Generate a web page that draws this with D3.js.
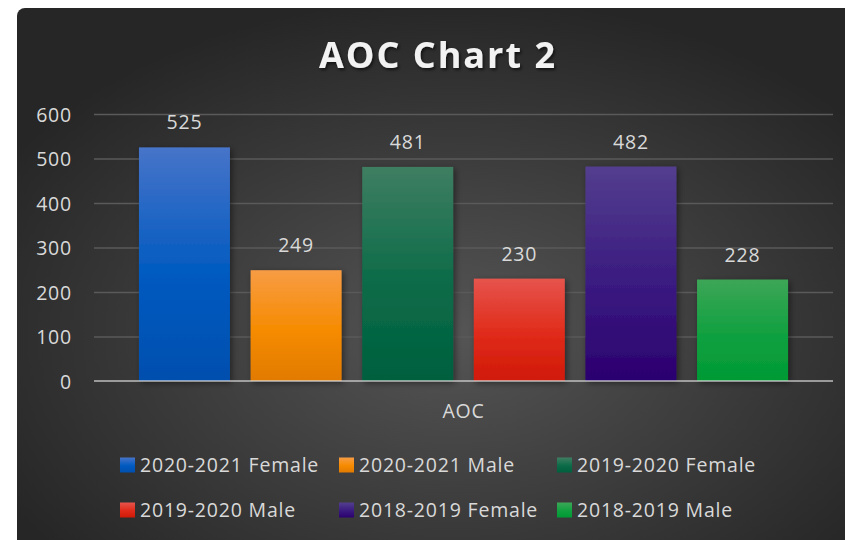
<!DOCTYPE html>
<html>
<head>
<meta charset="utf-8">
<script src="https://cdn.jsdelivr.net/npm/d3@7"></script>
<style>
  html, body { margin: 0; padding: 0; background: #ffffff; }
  svg { display: block; }
  text { font-family: "Open Sans", "DejaVu Sans", sans-serif; }
</style>
</head>
<body>
<svg id="chart" width="845" height="540"></svg>
<script>
// ---- data ----
const categories = ["AOC"];
const seriesNames = ["2020-2021 Female", "2020-2021 Male", "2019-2020 Female",
                     "2019-2020 Male", "2018-2019 Female", "2018-2019 Male"];
const seriesValues = [525, 249, 481, 230, 482, 228];
const yTicks = [0, 100, 200, 300, 400, 500, 600];
const title = "AOC Chart 2";

// colours: [top, middle, bottom] gradient stops
const seriesColors = [
  ["#4774C9", "#005AC0", "#004FAE"],
  ["#F79C44", "#F68B00", "#E17A00"],
  ["#3F7E62", "#0B6B48", "#00603E"],
  ["#E6544C", "#E02A1A", "#D01A08"],
  ["#533E8E", "#3A1A80", "#2B006F"],
  ["#3DA657", "#10A040", "#009A35"]
];

const W = 845, H = 540;
const FS = 19.5, LS = 0.8;
const svg = d3.select("#chart");
const defs = svg.append("defs");

// background gradient
const bg = defs.append("radialGradient").attr("id", "bgGrad")
  .attr("cx", "52%").attr("cy", "60%").attr("r", "62%");
bg.append("stop").attr("offset", "0%").attr("stop-color", "#555555");
bg.append("stop").attr("offset", "100%").attr("stop-color", "#262626");

seriesColors.forEach((c, i) => {
  const g = defs.append("linearGradient").attr("id", "barGrad" + i)
    .attr("x1", 0).attr("y1", 0).attr("x2", 0).attr("y2", 1);
  g.append("stop").attr("offset", "0%").attr("stop-color", c[0]);
  g.append("stop").attr("offset", "55%").attr("stop-color", c[1]);
  g.append("stop").attr("offset", "100%").attr("stop-color", c[2]);
});

const shadow = defs.append("filter").attr("id", "barShadow")
  .attr("x", "-20%").attr("y", "-20%").attr("width", "140%").attr("height", "140%");
shadow.append("feDropShadow").attr("dx", 2).attr("dy", 2).attr("stdDeviation", 3)
  .attr("flood-color", "#000").attr("flood-opacity", 0.45);

const titleShadow = defs.append("filter").attr("id", "titleShadow")
  .attr("x", "-10%").attr("y", "-30%").attr("width", "120%").attr("height", "160%");
titleShadow.append("feDropShadow").attr("dx", 1.5).attr("dy", 2).attr("stdDeviation", 1.5)
  .attr("flood-color", "#000").attr("flood-opacity", 0.6);

// background
svg.append("rect").attr("x", 17).attr("y", 8).attr("width", W - 17 + 10).attr("height", H - 8 + 10)
  .attr("rx", 8).attr("fill", "url(#bgGrad)");

// scales
const plot = { left: 94, right: 833, top: 114, bottom: 381 };
const y = d3.scaleLinear().domain([0, 600]).range([plot.bottom, plot.top]);
const x0 = d3.scaleBand().domain(categories).range([plot.left, plot.right]).padding(0);
const x1 = d3.scaleBand().domain(seriesNames).range([0, x0.bandwidth()])
  .paddingInner(0.185).paddingOuter(0.403);

// gridlines
const gridAxis = d3.axisLeft(y).tickValues(yTicks.filter(t => t > 0))
  .tickSize(-(plot.right - plot.left)).tickFormat("");
const grid = svg.append("g").attr("transform", `translate(${plot.left},0)`).call(gridAxis);
grid.select(".domain").remove();
grid.selectAll("line").attr("stroke", "#5a5a5a").attr("stroke-width", 1.5);

// y tick labels
const yAxis = d3.axisLeft(y).tickValues(yTicks).tickSize(0).tickPadding(0);
const ya = svg.append("g").attr("transform", `translate(72,0)`).call(yAxis);
ya.select(".domain").remove();
ya.selectAll("text").attr("fill", "#D9D9D9").attr("font-size", FS)
  .attr("letter-spacing", LS)
  .attr("font-family", '"Open Sans", sans-serif').attr("dy", "0.36em");

// bars
const data = seriesNames.map((s, i) => ({ name: s, value: seriesValues[i], idx: i, cat: categories[0] }));
const bars = svg.append("g");
bars.selectAll("rect").data(data).join("rect")
  .attr("x", d => x0(d.cat) + x1(d.name))
  .attr("y", d => y(d.value))
  .attr("width", x1.bandwidth())
  .attr("height", d => y(0) - y(d.value))
  .attr("fill", d => `url(#barGrad${d.idx})`)
  .attr("filter", "url(#barShadow)");

// data labels
svg.append("g").selectAll("text").data(data).join("text")
  .attr("x", d => x0(d.cat) + x1(d.name) + x1.bandwidth() / 2)
  .attr("y", d => y(d.value) - 18)
  .attr("text-anchor", "middle")
  .attr("fill", "#D9D9D9").attr("font-size", FS).attr("letter-spacing", LS)
  .text(d => d.value);

// x axis line
svg.append("line").attr("x1", plot.left).attr("x2", plot.right)
  .attr("y1", y(0)).attr("y2", y(0))
  .attr("stroke", "#e0e0e0").attr("stroke-opacity", 0.6).attr("stroke-width", 2.2);

// x axis label
const xAxis = d3.axisBottom(x0).tickSize(0).tickPadding(0);
const xa = svg.append("g").attr("transform", `translate(0,${plot.bottom})`).call(xAxis);
xa.select(".domain").remove();
xa.selectAll("text").attr("fill", "#D9D9D9").attr("font-size", FS).attr("letter-spacing", LS)
  .attr("font-family", '"Open Sans", sans-serif').attr("dy", 0).attr("y", 37);

// title
svg.append("text").attr("x", 438).attr("y", 68).attr("text-anchor", "middle")
  .attr("fill", "#F2F2F2").attr("font-size", 36).attr("font-weight", "bold")
  .attr("letter-spacing", 2).attr("filter", "url(#titleShadow)")
  .text(title);

// legend
const legCols = [120, 339, 557];
const legRows = [465, 510];
const legend = svg.append("g");
const items = legend.selectAll("g").data(data).join("g")
  .attr("transform", (d, i) => `translate(${legCols[i % 3]},${legRows[Math.floor(i / 3)]})`);
items.append("rect").attr("x", 0).attr("y", -7.5).attr("width", 15).attr("height", 15)
  .attr("fill", d => `url(#barGrad${d.idx})`);
items.append("text").attr("x", 20).attr("y", 0).attr("dy", "0.36em")
  .attr("fill", "#D9D9D9").attr("font-size", FS).attr("letter-spacing", LS)
  .text(d => d.name);
</script>
</body>
</html>
